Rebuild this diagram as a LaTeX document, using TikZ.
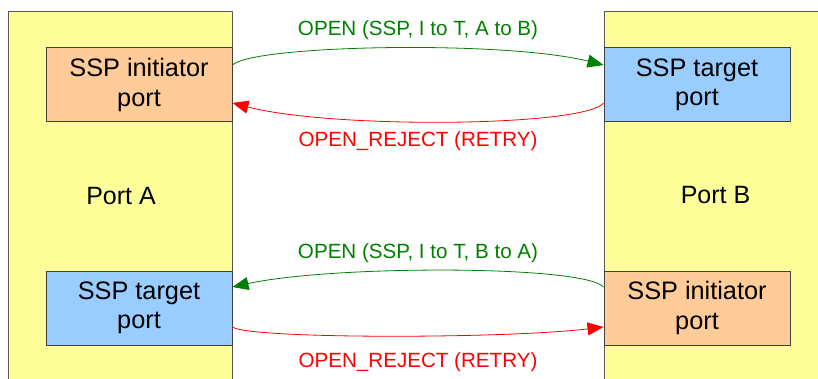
\documentclass[tikz,border=0pt]{standalone}
\usepackage{fontspec}
\setmainfont{Liberation Sans}
\usetikzlibrary{arrows.meta}
\definecolor{panelyellow}{HTML}{FFFF99}
\definecolor{initorange}{HTML}{FFCC99}
\definecolor{targetblue}{HTML}{99CCFF}
\definecolor{opengreen}{HTML}{008000}

\begin{document}
\begin{tikzpicture}[x=1pt,y=-1pt,line width=1pt,
  panel/.style={draw=black!65,fill=panelyellow,minimum width=224pt,minimum height=400pt,inner sep=0pt},
  portname/.style={font=\fontsize{25}{29}\selectfont,anchor=base},
  port/.style={draw=black!75,minimum width=186pt,minimum height=74pt,inner sep=0pt,align=center,font=\fontsize{25.3}{29.5}\selectfont},
  initiator/.style={port,fill=initorange},
  target/.style={port,fill=targetblue},
  lbl/.style={font=\fontsize{20.6}{23}\selectfont,anchor=base},
  conn/.style={line width=0.8pt,-{Triangle[length=16pt,width=13pt]}}]
 \clip (0,0) rectangle (818,379);
 % the two ports
 \node[panel,anchor=north west] (pa) at (8,11) {};
 \node[panel,anchor=north west] (pb) at (604,11) {};
 \node[portname] (porta) at (121,204.3) {Port A};
 \node[portname] (portb) at (715.5,203.3) {Port B};
 % SSP ports
 \node[initiator] (ia) at (139,85)  {SSP initiator\\port};
 \node[target]    (tb) at (697,85)  {SSP target\\port};
 \node[target]    (ta) at (139,308) {SSP target\\port};
 \node[initiator] (ib) at (697,308) {SSP initiator\\port};
 % A to B
 \draw[conn,opengreen] ([yshift=20pt]ia.east) .. controls +(20,-20) and +(-100,-25) .. ([yshift=20pt]tb.west);
 \draw[conn,red] ([yshift=-18pt]tb.west) .. controls +(-20,24) and +(100,26) .. ([yshift=-18pt]ia.east);
 % B to A
 \draw[conn,opengreen] ([yshift=21pt]ib.west) .. controls +(-20,-22) and +(100,-22) .. ([yshift=21pt]ta.east);
 \draw[conn,red] ([yshift=-19pt]ta.east) .. controls +(15,12) and +(-100,12) .. ([yshift=-19pt]ib.west);
 \node[lbl,text=opengreen] (open1) at (418,36)    {OPEN (SSP, I to T, A to B)};
 \node[lbl,text=red]       (rej1)  at (418,146.7) {OPEN\_REJECT (RETRY)};
 \node[lbl,text=opengreen] (open2) at (418,258)   {OPEN (SSP, I to T, B to A)};
 \node[lbl,text=red]       (rej2)  at (418,367.7) {OPEN\_REJECT (RETRY)};
\end{tikzpicture}
\end{document}
